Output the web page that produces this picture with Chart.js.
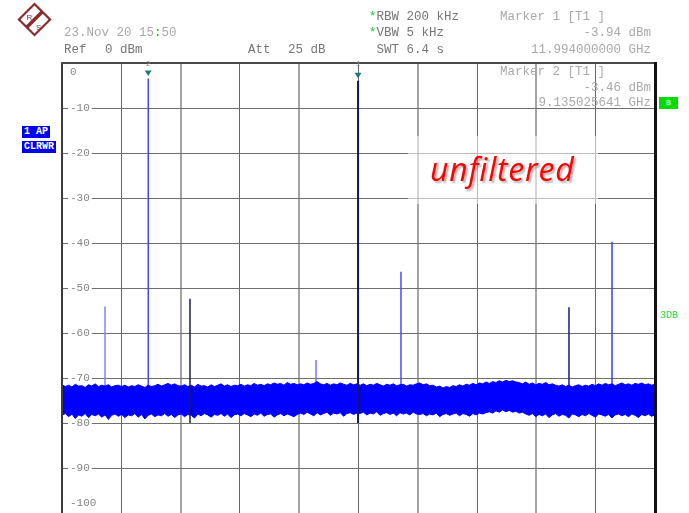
<!DOCTYPE html>
<html>
<head>
<meta charset="utf-8">
<script src="https://cdn.jsdelivr.net/npm/chart.js@4/dist/chart.umd.min.js"></script>
<style>
  html, body { margin: 0; padding: 0; background: #fff; }
  #wrap { position: relative; width: 689px; height: 513px; overflow: hidden; }
  #spec { position: absolute; left: 0; top: 0; }
  .m { position: absolute; font-family: 'Liberation Mono', 'DejaVu Sans Mono', monospace; font-size: 12.5px; line-height: 14px; white-space: pre; color: #767676; }
  .lt { color: #a9a9a9; }
  .r { text-align: right; }
  .star { color: #22bb22; }
  .badge { position: absolute; background: #0000ee; color: #fff; font-family: 'Liberation Mono', monospace; font-weight: bold; font-size: 10px; line-height: 12px; padding: 0 2px; white-space: pre; }
  #bBox { position: absolute; left: 659px; top: 97px; width: 19px; height: 12px; background: #00dd00; color: #c8ffc8; font: bold 8px 'Liberation Mono', monospace; line-height: 12px; text-align: center; }
  #db3 { position: absolute; left: 660px; top: 311px; color: #33d633; font: 10px 'Liberation Mono', monospace; line-height: 10px; }
  #note { position: absolute; left: 408px; top: 136px; width: 190px; height: 68px; background: rgba(255,255,255,0.55); }
  #noteText { position: absolute; left: 430px; top: 149px; font-family: 'Open Sans', 'Liberation Sans', sans-serif; font-style: italic; font-size: 32px; letter-spacing: 0.8px; line-height: 40px; color: #ff0000; text-shadow: 2px 2px 2px rgba(0,0,0,0.3); white-space: pre; }
</style>
</head>
<body>
<div id="wrap">
  <canvas id="spec" width="689" height="513"></canvas>

  <svg style="position:absolute;left:14px;top:0" width="42" height="40">
    <g transform="translate(20.5,19.5) rotate(45)">
      <rect x="-11" y="-11" width="22" height="22" fill="#fff" stroke="#8b2b2b" stroke-width="2.2"/>
    </g>
    <line x1="13" y1="27" x2="28" y2="12" stroke="#8b2b2b" stroke-width="3.5"/>
    <text x="12.5" y="20" font-family="Liberation Sans, sans-serif" font-size="8" fill="#8b2b2b">R</text>
    <text x="22" y="30" font-family="Liberation Sans, sans-serif" font-size="8" fill="#8b2b2b">S</text>
  </svg>

  <div class="m lt" style="left:64px;top:26px">23.Nov 20 15<span class="star">:</span>50</div>
  <div class="m" style="left:64px;top:43px">Ref</div>
  <div class="m" style="left:105px;top:43px">0 dBm</div>
  <div class="m" style="left:248px;top:43px">Att</div>
  <div class="m" style="left:288px;top:43px">25 dB</div>

  <div class="m" style="left:369px;top:10px"><span class="star">*</span>RBW 200 kHz</div>
  <div class="m" style="left:369px;top:26px"><span class="star">*</span>VBW 5 kHz</div>
  <div class="m" style="left:369px;top:43px"> SWT 6.4 s</div>

  <div class="m lt" style="left:500px;top:10px">Marker 1 [T1 ]</div>
  <div class="m lt r" style="right:38px;top:26px">-3.94 dBm</div>
  <div class="m lt r" style="right:38px;top:43px">11.994000000 GHz</div>
  <div class="m lt" style="left:500px;top:65px">Marker 2 [T1 ]</div>
  <div class="m lt r" style="right:38px;top:81px">-3.46 dBm</div>
  <div class="m lt r" style="right:38px;top:96px">9.135025641 GHz</div>

  <div class="badge" style="left:22px;top:126px">1 AP</div>
  <div class="badge" style="left:22px;top:141px">CLRWR</div>
  <div id="bBox">B</div>
  <div id="db3">3DB</div>

  <div id="note"></div>
  <div id="noteText">unfiltered</div>
</div>

<script>
// Frequency span (GHz) and reference level range (dBm)
const freqStart = 7.96;
const freqStop = 16.04;
const levelMax = 0;
const levelMin = -100;
const levelTicks = [0, -10, -20, -30, -40, -50, -60, -70, -80, -90, -100];

// Marker readouts
const markerFreqs = [11.994, 9.135025641];
const markerLevels = [-3.94, -3.46];

// Smaller spurs (GHz, dBm)
const spurFreqs = [8.546, 9.704, 11.421, 12.579, 14.868, 15.454];
const spurLevels = [-54.1, -52.4, -66.0, -46.4, -54.3, -39.7];

// Auto-peak noise floor: upper and lower envelope per display bin (dBm)
const noiseTop = [
  -71.5,-71.9,-71.6,-72.0,-71.4,-71.8,-71.7,-72.1,-71.5,-71.8,-71.3,-71.9,-71.6,-71.8,-71.5,-72.0,-71.7,-71.6,
  -71.9,-71.6,-72.0,-71.7,-71.9,-71.5,-71.8,-72.1,-71.6,-71.9,-71.7,-71.4,-71.8,-71.5,-71.2,-71.6,-71.3,-71.7,
  -71.8,-71.5,-71.9,-71.6,-72.0,-71.4,-71.8,-71.7,-72.0,-71.5,-71.9,-71.6,-71.3,-71.8,-71.5,-71.9,-71.6,-71.7,
  -71.4,-71.8,-71.5,-71.7,-71.2,-71.6,-71.4,-71.7,-71.3,-71.5,-71.1,-71.4,-71.2,-71.6,-71.0,-71.4,-71.2,-71.5,
  -71.3,-71.5,-71.1,-71.4,-71.2,-70.8,-71.3,-71.5,-71.2,-71.6,-71.3,-71.5,-71.1,-71.4,-71.6,-71.2,-71.5,-71.3,
  -71.6,-71.3,-71.7,-71.4,-71.6,-71.2,-71.5,-71.8,-71.4,-71.6,-71.3,-71.7,-71.5,-71.4,-71.8,-71.5,-71.6,-71.3,
  -71.1,-71.5,-71.3,-71.7,-71.6,-72.0,-71.8,-72.2,-71.9,
  -72.1,-71.7,-71.9,-71.5,-71.8,-71.4,-71.6,-71.2,-71.5,-71.1,-71.3,-70.9,-71.2,-70.8,-71.0,-70.6,-70.9,-70.5,-70.8,-70.6,-70.9,
  -71.0,-71.3,-70.9,-71.4,-71.1,-71.5,-71.2,-71.4,-71.0,-71.5,-71.3,-71.6,
  -71.8,-71.5,-71.9,-71.6,-72.0,-71.7,-71.5,-71.9,-71.6,-71.8,-71.4,-71.7,
  -71.3,-71.6,-71.2,-71.5,-71.3,-71.7,-71.4,-71.1,-71.5,-71.3,-71.6,-71.2,-71.4,-71.1,-71.5,-71.3,-71.6,-71.4
];
const noiseBottom = [
  -78.3,-77.9,-78.6,-78.0,-79.0,-78.2,-78.5,-77.9,-78.8,-78.1,-78.4,-78.0,-78.7,-78.2,-79.2,-78.3,-78.0,-78.5,
  -78.1,-78.8,-78.2,-78.4,-77.9,-78.7,-78.1,-79.1,-78.3,-78.0,-78.6,-78.2,-78.4,-77.9,-78.5,-78.1,-78.8,-78.2,
  -78.0,-78.6,-78.1,-78.3,-78.9,-78.0,-78.4,-77.9,-78.2,-78.7,-78.1,-78.3,-77.9,-78.5,-78.0,-78.8,-78.2,-78.0,
  -78.4,-77.9,-78.2,-78.6,-78.0,-78.3,-77.8,-78.5,-78.1,-78.0,-78.7,-78.2,-77.9,-78.4,-78.0,-78.3,-78.6,-78.1,
  -77.8,-78.1,-77.6,-78.0,-78.4,-77.7,-78.2,-77.9,-77.6,-78.3,-77.8,-78.0,-77.7,-78.5,-77.9,-77.7,-78.1,-77.8,
  -77.9,-77.6,-78.2,-77.8,-78.0,-77.5,-78.3,-77.9,-77.7,-78.1,-77.8,-78.4,-77.7,-78.0,-77.8,-78.2,-77.6,-78.0,
  -78.1,-77.9,-78.4,-78.0,-78.2,-77.8,-78.6,-78.1,-77.9,-78.3,-78.0,-77.8,-78.4,-77.9,-78.1,-78.5,-77.9,-78.2,-77.8,-78.0,-77.7,
  -77.5,-77.8,-77.3,-77.6,-77.1,-77.5,-77.2,-77.6,-77.4,-77.8,-77.6,
  -78.0,-78.3,-77.9,-78.6,-78.1,-78.4,-78.0,-78.8,-78.2,-77.9,-78.5,-78.1,-78.3,-78.9,-78.0,-78.2,-78.6,-78.1,-78.4,-77.9,
  -78.3,-78.7,-78.0,-78.2,-78.5,-78.1,-78.9,-78.2,-78.0,-78.4,-78.1,-78.6,-78.0,-78.3,-78.8,-78.1,-78.4,-78.0,-78.5,-78.2
];

// Trace styling
const TRACE_BLUE = '#0000ff';
const carrierStyle = [
  { color: '#15155e', width: 2, base: -80, order: 0 },   // marker 1 carrier
  { color: '#4646ff', width: 1.5, base: -74, order: 2 }  // marker 2 carrier
];
const spurStyle = [
  { color: '#8484ff', width: 1.5, base: -74, order: 2 },
  { color: '#1c1c48', width: 1.5, base: -80, order: 0 },
  { color: '#7474ff', width: 1.5, base: -74, order: 2 },
  { color: '#4a4aff', width: 1.5, base: -74, order: 2 },
  { color: '#1a1a86', width: 1.5, base: -74, order: 2 },
  { color: '#3c3cff', width: 1.5, base: -74, order: 2 }
];

const binStep = (freqStop - freqStart) / (noiseTop.length - 1);
const binFreq = i => freqStart + i * binStep;

const datasets = [];
markerFreqs.forEach((f, i) => {
  const s = carrierStyle[i];
  datasets.push({
    data: [{ x: f, y: s.base }, { x: f, y: markerLevels[i] }],
    borderColor: s.color, borderWidth: s.width, pointRadius: 0, order: s.order
  });
});
spurFreqs.forEach((f, i) => {
  const s = spurStyle[i];
  datasets.push({
    data: [{ x: f, y: s.base }, { x: f, y: spurLevels[i] }],
    borderColor: s.color, borderWidth: s.width, pointRadius: 0, order: s.order
  });
});
datasets.push({
  data: noiseTop.map((v, i) => ({ x: binFreq(i), y: v })),
  borderColor: TRACE_BLUE, borderWidth: 1, pointRadius: 0,
  backgroundColor: TRACE_BLUE, fill: '+1', order: 1
});
datasets.push({
  data: noiseBottom.map((v, i) => ({ x: binFreq(i), y: v })),
  borderColor: TRACE_BLUE, borderWidth: 1, pointRadius: 0, fill: false, order: 1
});

// Level labels sit inside the grid with a white backdrop
const levelLabels = {
  id: 'levelLabels',
  beforeDatasetsDraw(chart) {
    const { ctx } = chart;
    const ys = chart.scales.y;
    ctx.save();
    ctx.font = '11px "Liberation Mono", monospace';
    ctx.textBaseline = 'middle';
    levelTicks.forEach(v => {
      let py = ys.getPixelForValue(v);
      if (v === levelMax) py += 9;
      if (v === levelMin) py -= 10;
      const label = String(v);
      const w = ctx.measureText(label).width;
      const tx = chart.chartArea.left + 8;
      ctx.fillStyle = '#ffffff';
      ctx.fillRect(tx - 2, py - 5, w + 4, 10);
      ctx.fillStyle = '#858585';
      ctx.fillText(label, tx, py + 0.5);
    });
    ctx.restore();
  }
};

// Display frame and marker symbols
const frameAndMarkers = {
  id: 'frameAndMarkers',
  afterDatasetsDraw(chart) {
    const { ctx, chartArea: a } = chart;
    ctx.save();
    ctx.fillStyle = '#3c3c3c';
    ctx.fillRect(a.left - 1, a.top, 2, a.bottom - a.top);
    ctx.fillStyle = '#4a4a4a';
    ctx.fillRect(a.left - 1, a.top - 1, a.right - a.left + 2, 2);
    ctx.fillStyle = '#111111';
    ctx.fillRect(a.right - 1, a.top - 1, 3, a.bottom - a.top + 1);

    markerFreqs.forEach((f, i) => {
      const px = chart.scales.x.getPixelForValue(f);
      const py = chart.scales.y.getPixelForValue(markerLevels[i]);
      ctx.fillStyle = '#1d7b7b';
      ctx.beginPath();
      ctx.moveTo(px - 3.5, py - 8);
      ctx.lineTo(px + 3.5, py - 8);
      ctx.lineTo(px, py - 2.5);
      ctx.closePath();
      ctx.fill();
      ctx.fillStyle = '#8a8a8a';
      ctx.font = '8px "Liberation Mono", monospace';
      ctx.textAlign = 'center';
      ctx.textBaseline = 'middle';
      ctx.fillText(String(i + 1), px, a.top + 1);
    });
    ctx.restore();
  }
};

new Chart(document.getElementById('spec'), {
  type: 'line',
  data: { datasets },
  options: {
    responsive: false,
    devicePixelRatio: 1,
    animation: false,
    events: [],
    layout: { padding: { left: 62, right: 34, top: 63, bottom: 0 } },
    plugins: { legend: { display: false }, tooltip: { enabled: false } },
    elements: { line: { tension: 0 } },
    scales: {
      x: {
        type: 'linear',
        min: freqStart,
        max: freqStop,
        afterBuildTicks: scale => {
          const n = 10;
          scale.ticks = Array.from({ length: n + 1 }, (_, i) => ({ value: freqStart + i * (freqStop - freqStart) / n }));
        },
        ticks: { display: false },
        border: { display: false },
        grid: {
          drawTicks: false,
          color: c => (c.index % 2 ? '#666666' : '#a4a4a4'),
          lineWidth: c => (c.index % 2 ? 1 : 2)
        }
      },
      y: {
        min: levelMin,
        max: levelMax,
        ticks: { display: false, stepSize: 10 },
        border: { display: false },
        grid: { drawTicks: false, color: '#6e6e6e', lineWidth: 1 }
      }
    }
  },
  plugins: [levelLabels, frameAndMarkers]
});
</script>
</body>
</html>
